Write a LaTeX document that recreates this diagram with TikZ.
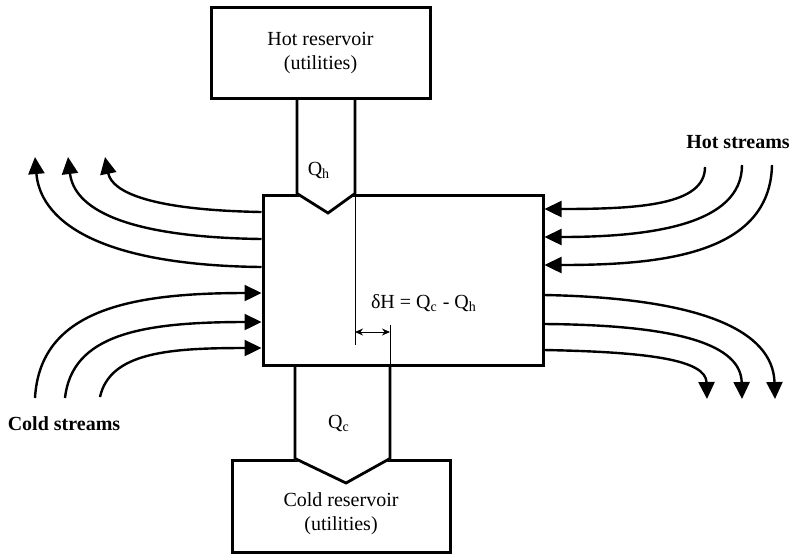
\documentclass[tikz,border=0pt]{standalone}
\usepackage{fontspec}
\setmainfont{Liberation Serif}
\usetikzlibrary{arrows.meta}
\begin{document}
\begin{tikzpicture}[x=0.5pt,y=-0.5pt,
  box/.style={draw,line width=1.5pt,fill=white,inner sep=0pt},
  shaft/.style={line width=1.4pt,line join=miter},
  stream/.style={line width=1.2pt,-{Triangle[length=8.5pt,width=8pt]}},
  guide/.style={line width=0.5pt}]
  \useasboundingbox (0,0) rectangle (792,554);
  % network and reservoirs
  \node[box,minimum width=140pt,minimum height=85pt] (net) at (403,280) {};
  \node[box,minimum width=109.5pt,minimum height=45.5pt,align=center] (hot) at (320.5,52.5) {Hot reservoir\\(utilities)};
  \node[box,minimum width=109pt,minimum height=46pt] (cold) at (341,506) {};
  \node[align=center] (coldtext) at (341,514) {Cold reservoir\\(utilities)};
  % heat from the hot reservoir
  \fill[white] (297,188) -- (297,195) -- (328,213) -- (355,195) -- (355,188) -- cycle;
  \draw[shaft] (297,0 |- hot.south) -- (297,0 |- net.north) -- (328,213) -- (355,0 |- net.north) -- (355,0 |- hot.south);
  \node (qh) at (319,170) {Q\textsubscript{h}};
  % heat to the cold reservoir
  \fill[white] (295,453) -- (295,460) -- (346,483) -- (390,460) -- (390,453) -- cycle;
  \draw[shaft] (295,0 |- net.south) -- (295,0 |- cold.north) -- (346,483) -- (390,0 |- cold.north) -- (390,0 |- net.south);
  \node (qc) at (339,423) {Q\textsubscript{c}};
  % difference
  \draw[guide] (355,0 |- net.north) -- (355,345);
  \draw[guide] (390,325) -- (390,0 |- net.south);
  \coordinate (dl) at (355,332);
  \coordinate (dr) at (390,332);
  \draw[guide,{Stealth[length=4pt,width=3.5pt]}-{Stealth[length=4pt,width=3.5pt]}] (dl) -- (dr);
  \node (dh) at (424,303) {δH = Q\textsubscript{c} - Q\textsubscript{h}};
  % cold streams
  \coordinate (ci1) at (35,398);
  \coordinate (ci2) at (65,398);
  \coordinate (ci3) at (100,397);
  \coordinate (co1) at (105,157);
  \coordinate (co2) at (68,157);
  \coordinate (co3) at (35,157);
  \draw[stream] (ci1) .. controls (40,310) and (130,293) .. (net.west |- 0,293);
  \draw[stream] (ci2) .. controls (72,335) and (140,322) .. (net.west |- 0,322);
  \draw[stream] (ci3) .. controls (110,352) and (170,348) .. (net.west |- 0,348);
  \draw[stream] (net.west |- 0,212) .. controls (150,210) and (112,192) .. (co1);
  \draw[stream] (net.west |- 0,239) .. controls (120,237) and (74,207) .. (co2);
  \draw[stream] (net.west |- 0,267) .. controls (90,265) and (40,217) .. (co3);
  \node[font=\bfseries] (coldlab) at (64,424) {Cold streams};
  % hot streams
  \coordinate (hi1) at (705,167);
  \coordinate (hi2) at (742,165);
  \coordinate (hi3) at (772,165);
  \coordinate (ho1) at (775,399);
  \coordinate (ho2) at (742,399);
  \coordinate (ho3) at (707,399);
  \draw[stream] (hi1) .. controls (705,205) and (640,209) .. (net.east |- 0,209);
  \draw[stream] (hi2) .. controls (742,225) and (650,237) .. (net.east |- 0,237);
  \draw[stream] (hi3) .. controls (770,255) and (660,265) .. (net.east |- 0,265);
  \draw[stream] (net.east |- 0,295) .. controls (700,298) and (773,330) .. (ho1);
  \draw[stream] (net.east |- 0,324) .. controls (680,325) and (741,345) .. (ho2);
  \draw[stream] (net.east |- 0,350) .. controls (650,352) and (706,360) .. (ho3);
  \node[font=\bfseries] (hotlab) at (738,142) {Hot streams};
\end{tikzpicture}
\end{document}
